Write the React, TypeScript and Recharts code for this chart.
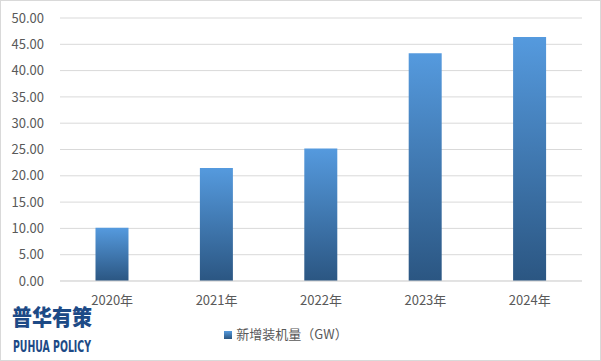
import React from "react";
import { BarChart, Bar, XAxis, YAxis, CartesianGrid, Legend } from "recharts";

const categories = ["2020年", "2021年", "2022年", "2023年", "2024年"];
const values = [10.1, 21.5, 25.2, 43.3, 46.4];
const yTicks = [0, 5, 10, 15, 20, 25, 30, 35, 40, 45, 50];
const seriesName = "新增装机量（GW）";

const data = categories.map((c, i) => ({ name: c, value: values[i] }));

const FONT = '"Noto Sans CJK SC", "Noto Sans", sans-serif';

export default function App() {
  return (
    <div
      style={{
        position: "absolute",
        left: 0,
        top: 0,
        width: 601,
        height: 361,
        boxSizing: "border-box",
        border: "1px solid #d9d9d9",
        background: "#fff",
        overflow: "hidden",
      }}
    >
      <div style={{ position: "absolute", left: -1, top: -1 }}>
        <BarChart
          width={601}
          height={361}
          data={data}
          margin={{ top: 18, right: 19, left: 0, bottom: 31 }}
          barCategoryGap="34%"
        >
          <defs>
            <linearGradient id="barGrad" x1="0" y1="0" x2="0" y2="1">
              <stop offset="0%" stopColor="#559ade" />
              <stop offset="100%" stopColor="#2b5682" />
            </linearGradient>
          </defs>
          <CartesianGrid vertical={false} stroke="#d9d9d9" strokeWidth={1} />
          <XAxis
            dataKey="name"
            axisLine={{ stroke: "#d9d9d9" }}
            tickLine={false}
            tickMargin={9}
            height={30}
            tick={{ fontSize: 13, fill: "#595959", fontFamily: FONT }}
          />
          <YAxis
            domain={[0, 50]}
            ticks={yTicks}
            interval={0}
            width={60}
            axisLine={false}
            tickLine={false}
            tickMargin={10}
            tickFormatter={(v: number) => v.toFixed(2)}
            tick={{ fontSize: 13, fill: "#595959", fontFamily: FONT }}
          />
          <Legend
            verticalAlign="bottom"
            iconType="square"
            iconSize={8}
            wrapperStyle={{ top: 324, fontFamily: FONT, fontSize: 13 }}
            formatter={(v: string) => <span style={{ color: "#595959" }}>{v}</span>}
          />
          <Bar
            dataKey="value"
            name={seriesName}
            fill="url(#barGrad)"
            legendType="square"
            isAnimationActive={false}
          />
        </BarChart>
      </div>
      <svg
        width={130}
        height={61}
        style={{ position: "absolute", left: 0, top: 299 }}
      >
        <text
          x={11}
          y={25}
          fontFamily={FONT}
          fontWeight={900}
          fontSize={22}
          fill="#1d4a86"
          textLength={80}
          lengthAdjust="spacingAndGlyphs"
        >
          普华有策
        </text>
        <text
          x={12}
          y={52}
          fontFamily='"Liberation Sans Narrow", "DejaVu Sans Condensed", "Roboto", sans-serif'
          fontWeight={700}
          fontSize={15}
          fill="#1d4a86"
          textLength={78}
          lengthAdjust="spacingAndGlyphs"
        >
          PUHUA POLICY
        </text>
      </svg>
    </div>
  );
}
